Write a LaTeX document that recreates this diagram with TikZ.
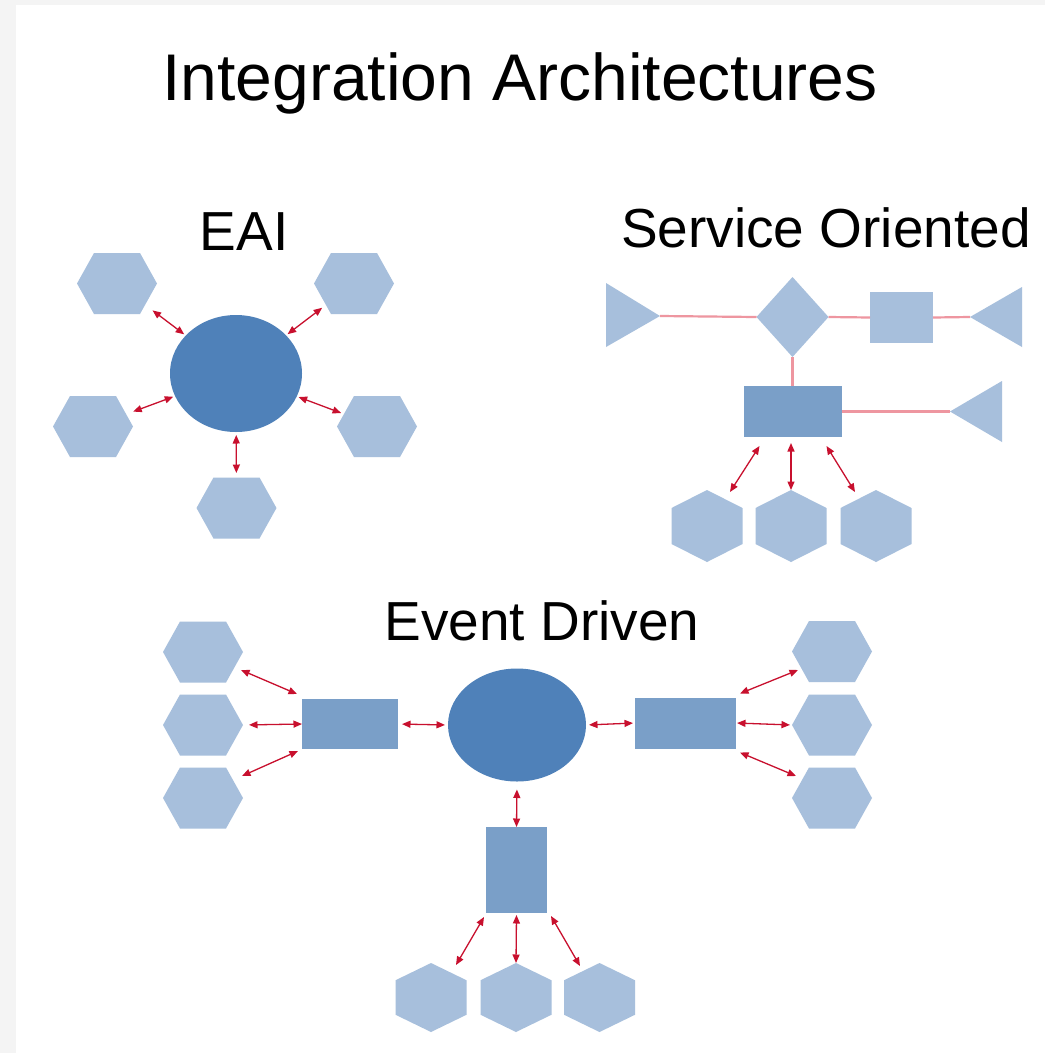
\documentclass[tikz,border=0pt]{standalone}
\usepackage{fontspec}
\setmainfont{Liberation Sans}
\usetikzlibrary{shapes.geometric,arrows.meta}
\definecolor{hexc}{HTML}{A7BFDC}
\definecolor{ellc}{HTML}{4F81B9}
\definecolor{rectc}{HTML}{7A9FC8}
\definecolor{arrc}{HTML}{C8102E}
\definecolor{linec}{HTML}{EE96A0}
\definecolor{bgc}{HTML}{F4F4F4}
\tikzset{
  anch/.style={rectangle, draw=none, inner sep=0pt, outer sep=0pt},
  hexanch/.style={ellipse, draw=none, inner sep=0pt, outer sep=0pt},
  bigell/.style={ellipse, fill=ellc, draw=none, inner sep=0pt, outer sep=0pt},
  rbox/.style={rectangle, fill=rectc, draw=none, inner sep=0pt, outer sep=0pt},
  lbox/.style={rectangle, fill=hexc, draw=none, inner sep=0pt, outer sep=0pt},
  biarrow/.style={draw=arrc, line width=1.3pt, {Triangle[length=8.5pt,width=7pt]}-{Triangle[length=8.5pt,width=7pt]}},
  soline/.style={draw=linec, line width=2.2pt},
  ttl/.style={font=\fontsize{66}{70}\selectfont, anchor=base, inner sep=0pt},
  subttl/.style={font=\fontsize{55}{60}\selectfont, anchor=base, inner sep=0pt}
}
\newcommand\HexFlat[3]{%
  \fill[hexc] (#2-40,#3) -- (#2-23,#3-30.5) -- (#2+23,#3-30.5) -- (#2+40,#3) -- (#2+23,#3+30.5) -- (#2-23,#3+30.5) -- cycle;
  \node[hexanch, minimum width=80pt, minimum height=61pt] (#1) at (#2,#3) {};}
\newcommand\HexPointy[4]{%
  \fill[hexc] (#2,#3-#4) -- (#2+35.5,#3-#4/2) -- (#2+35.5,#3+#4/2) -- (#2,#3+#4) -- (#2-35.5,#3+#4/2) -- (#2-35.5,#3-#4/2) -- cycle;
  \node[hexanch, minimum width=71pt, minimum height=2*#4 pt] (#1) at (#2,#3) {};}
\begin{document}
\begin{tikzpicture}[x=1pt,y=-1pt]
\useasboundingbox (0,0) rectangle (1045,1053);
\fill[bgc] (0,0) rectangle (1045,1053);
\fill[white] (16,5) rectangle (1045,1053);

% titles
\node[ttl] (title) at (520,100) {Integration Architectures};
\node[subttl] (eaititle) at (244,250) {EAI};
\node[subttl] (sotitle) at (826,247) {Service Oriented};
\node[subttl] (edtitle) at (542,640) {Event Driven};

% ---------- EAI ----------
\node[bigell, minimum width=132pt, minimum height=117pt] (eai) at (236,373.5) {};
\HexFlat{e1}{117}{283.5}
\HexFlat{e2}{354}{283.5}
\HexFlat{e3}{93}{426.5}
\HexFlat{e4}{377}{426.5}
\HexFlat{e5}{236.5}{508}
\draw[biarrow, shorten <=2pt, shorten >=9pt] (eai) -- (e1);
\draw[biarrow, shorten <=2pt, shorten >=4.5pt] (eai) -- (e2);
\draw[biarrow, shorten <=2pt, shorten >=4.5pt] (eai) -- (e3);
\draw[biarrow, shorten <=2pt, shorten >=0pt] (eai) -- (e4);
\draw[biarrow, shorten <=3pt, shorten >=4.5pt] (eai) -- (e5);

% ---------- Service Oriented ----------
\fill[hexc] (606,283) -- (660,316) -- (606,347) -- cycle;
\coordinate (t1) at (660,316);
\fill[hexc] (756.5,317) -- (792.5,277) -- (828.5,317) -- (792.5,357) -- cycle;
\node[anch, minimum width=72pt, minimum height=80pt] (dia) at (792.5,317) {};
\node[lbox, minimum width=63pt, minimum height=51pt] (sq) at (901.5,317.5) {};
\fill[hexc] (970,317) -- (1022,287) -- (1022,347) -- cycle;
\coordinate (t2) at (970,317);
\node[rbox, minimum width=98pt, minimum height=51pt] (sor) at (792.5,411.5) {};
\fill[hexc] (950,411.5) -- (1002,381) -- (1002,442) -- cycle;
\coordinate (t3) at (950,411.5);
\HexPointy{s1}{707}{526}{36}
\HexPointy{s2}{791}{526}{36}
\HexPointy{s3}{876}{526}{36}
\draw[soline] (t1) -- (dia.west);
\draw[soline] (dia.east) -- (sq.west);
\draw[soline] (sq.east) -- (t2);
\draw[soline] (dia.south) -- (sor.north);
\draw[soline] (sor.east) -- (t3);
\draw[biarrow] ([xshift=-33pt,yshift=-9pt]sor.south) -- ([xshift=23pt,yshift=-2pt]s1.north);
\draw[biarrow] ([xshift=-1.5pt,yshift=-6pt]sor.south) -- (s2.north);
\draw[biarrow] ([xshift=34pt,yshift=-9pt]sor.south) -- ([xshift=-21pt,yshift=-2pt]s3.north);

% ---------- Event Driven ----------
\node[rbox, minimum width=96pt, minimum height=50pt] (el) at (350,724) {};
\node[bigell, minimum width=138pt, minimum height=113pt] (ec) at (517,725) {};
\node[rbox, minimum width=101pt, minimum height=51pt] (er) at (685.5,723) {};
\node[rbox, minimum width=61pt, minimum height=86pt] (eb) at (516.5,870) {};
\HexFlat{l1}{203}{652}
\HexFlat{l2}{203}{725}
\HexFlat{l3}{203}{798}
\HexFlat{r1}{832}{651.5}
\HexFlat{r2}{832}{725}
\HexFlat{r3}{832}{798}
\HexPointy{b1}{431}{997.5}{34.5}
\HexPointy{b2}{516}{997.5}{34.5}
\HexPointy{b3}{599.5}{997.5}{34.5}
\draw[biarrow] ([xshift=-2pt,yshift=-18pt]l1.east) -- ([xshift=-5pt,yshift=5pt]el.north west);
\draw[biarrow, shorten <=6pt] (l2.east) -- (el.west);
\draw[biarrow] ([xshift=-1pt,yshift=22pt]l3.east) -- ([xshift=-4pt,yshift=-2pt]el.south west);
\draw[biarrow, shorten <=4pt, shorten >=3pt] (el.east) -- (ec.west);
\draw[biarrow, shorten <=3pt, shorten >=2pt] (ec.east) -- (er.west);
\draw[biarrow, shorten <=8pt] (ec.south) -- (eb.north);
\draw[biarrow] ([xshift=4pt,yshift=4pt]er.north east) -- ([xshift=6pt,yshift=-18.5pt]r1.west);
\draw[biarrow, shorten <=1pt, shorten >=2pt] (er.east) -- (r2.west);
\draw[biarrow] ([xshift=4pt,yshift=-4pt]er.south east) -- ([xshift=4pt,yshift=22pt]r3.west);
\draw[biarrow] ([xshift=-2pt,yshift=-4pt]eb.south west) -- ([xshift=25pt,yshift=-2pt]b1.north);
\draw[biarrow] ([yshift=-2pt]eb.south) -- (b2.north);
\draw[biarrow] ([xshift=4pt,yshift=-3pt]eb.south east) -- ([xshift=-19.5pt,yshift=-3pt]b3.north);
\end{tikzpicture}
\end{document}
